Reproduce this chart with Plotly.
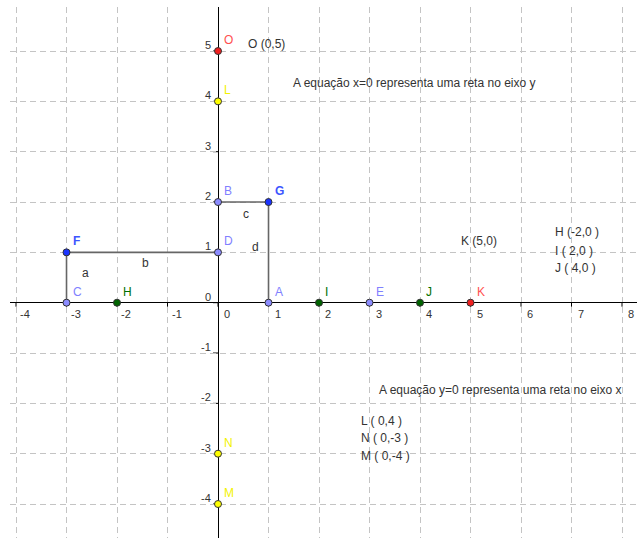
import plotly.graph_objects as go

# ---- data ----
point_names = ["O", "L", "N", "M", "B", "D", "C", "A", "E", "G", "F", "H", "I", "J", "K"]
point_x = [0, 0, 0, 0, 0, 0, -3, 1, 3, 1, -3, -2, 2, 4, 5]
point_y = [5, 4, -3, -4, 2, 1, 0, 0, 0, 2, 1, 0, 0, 0, 0]
point_group = ["red", "yellow", "yellow", "yellow", "light", "light", "light", "light", "light",
               "dark", "dark", "green", "green", "green", "red"]

seg_names = ["a", "b", "c", "d"]
seg_start = ["C", "F", "B", "G"]
seg_end = ["F", "D", "G", "A"]

x_ticks = [-4, -3, -2, -1, 0, 1, 2, 3, 4, 5, 6, 7, 8]
y_ticks = [-4, -3, -2, -1, 0, 1, 2, 3, 4, 5]

texts = ["O (0,5)", "A equação x=0 representa uma reta no eixo y", "K (5,0)",
         "H (-2,0 )", "I ( 2,0 )", "J ( 4,0 )",
         "A equação y=0 representa uma reta no eixo x",
         "L ( 0,4 )", "N ( 0,-3 )", "M ( 0,-4 )"]
text_x = [0.55, 1.45, 4.77, 6.64, 6.64, 6.64, 3.15, 2.80, 2.80, 2.80]
text_y = [5.14, 4.36, 1.23, 1.40, 1.03, 0.69, -1.735, -2.35, -2.69, -3.05]

# ---- styles ----
fill_col = {"red": "#f02020", "yellow": "#ffff00", "light": "#8c8cff",
            "dark": "#1a33ff", "green": "#006400"}
label_col = {"red": "#ff5050", "yellow": "#f2f200", "light": "#8080ff",
             "dark": "#3d55ff", "green": "#007000"}
seg_label_shift = {"a": (19, 5), "b": (3, -11), "c": (3, -12), "d": (-13, 5)}
FONT = "Liberation Sans, Arial, sans-serif"

pos = {n: (x, y) for n, x, y in zip(point_names, point_x, point_y)}

fig = go.Figure()

# segments
annotations = []
for name, s, e in zip(seg_names, seg_start, seg_end):
    (x0, y0), (x1, y1) = pos[s], pos[e]
    fig.add_trace(go.Scatter(x=[x0, x1], y=[y0, y1], mode="lines",
                             line=dict(color="#666666", width=1.6),
                             hoverinfo="skip", showlegend=False))
    dx, dy = seg_label_shift[name]
    annotations.append(dict(x=(x0 + x1) / 2, y=(y0 + y1) / 2, xref="x", yref="y",
                            text=name, showarrow=False, xshift=dx, yshift=dy,
                            font=dict(family=FONT, size=12, color="#333333")))

# points
fig.add_trace(go.Scatter(
    x=point_x, y=point_y, mode="markers",
    marker=dict(size=7, color=[fill_col[g] for g in point_group],
                line=dict(color="#333333", width=1)),
    hoverinfo="skip", showlegend=False, cliponaxis=False))

for n, x, y, g in zip(point_names, point_x, point_y, point_group):
    txt = f"<b>{n}</b>" if g == "dark" else n
    annotations.append(dict(x=x, y=y, xref="x", yref="y", text=txt, showarrow=False,
                            xanchor="left", yanchor="middle", xshift=4, yshift=11,
                            font=dict(family=FONT, size=12, color=label_col[g])))

# tick labels
for v in x_ticks:
    annotations.append(dict(x=v, y=0, xref="x", yref="y", text=str(v),
                            showarrow=False, xshift=9, yshift=-11,
                            font=dict(family=FONT, size=11, color="#333333")))
for v in y_ticks:
    annotations.append(dict(x=0, y=v, xref="x", yref="y", text=str(v), showarrow=False,
                            xanchor="right", xshift=-5, yshift=6,
                            font=dict(family=FONT, size=11, color="#333333")))

# free texts
for t, x, y in zip(texts, text_x, text_y):
    annotations.append(dict(x=x, y=y, xref="x", yref="y", text=t, showarrow=False,
                            xanchor="left", yanchor="middle",
                            font=dict(family=FONT, size=12, color="#333333")))

# tick marks
shapes = []
for v in x_ticks:
    shapes.append(dict(type="line", xref="x", yref="y", ysizemode="pixel", yanchor=0,
                       x0=v, x1=v, y0=0, y1=-4, line=dict(color="black", width=1),
                       layer="below"))
for v in y_ticks:
    shapes.append(dict(type="line", xref="x", yref="y", xsizemode="pixel", xanchor=0,
                       x0=-5, x1=0, y0=v, y1=v, line=dict(color="black", width=1),
                       layer="below"))

axis_common = dict(dtick=1, tick0=0, showgrid=True, gridcolor="#c4c4c4", gridwidth=1,
                   griddash="6px,4px", zeroline=True, zerolinecolor="black",
                   zerolinewidth=1, showticklabels=False, showline=False, ticks="",
                   fixedrange=True)

fig.update_layout(
    width=637, height=538,
    margin=dict(l=10, r=0, t=7, b=0),
    paper_bgcolor="white", plot_bgcolor="white",
    xaxis=dict(range=[-4.119, 8.297], **axis_common),
    yaxis=dict(range=[-4.675, 5.875], **axis_common),
    annotations=annotations, shapes=shapes,
    showlegend=False,
)

fig.write_html("out.html", config={"displayModeBar": False},
               post_script="document.body.style.margin='0';document.body.style.overflow='hidden';")
